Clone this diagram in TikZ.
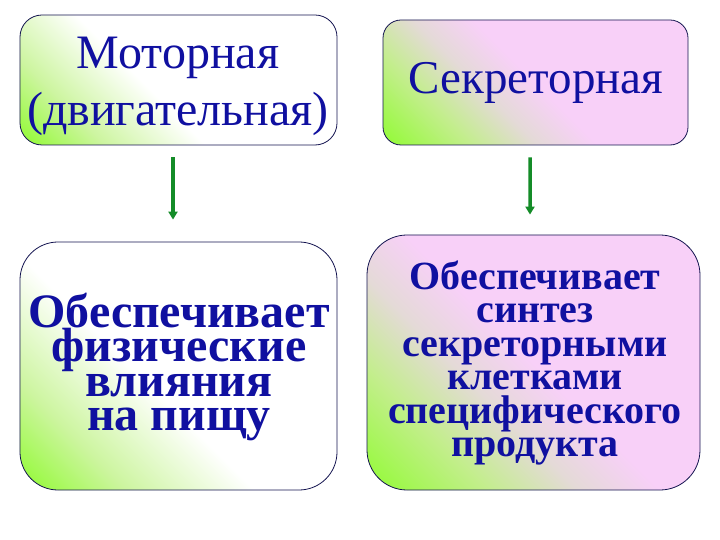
\documentclass[tikz,border=0pt]{standalone}
\usepackage{fontspec}
\setmainfont{Liberation Serif}
\usetikzlibrary{arrows.meta}
\definecolor{grn}{RGB}{150,250,60}
\definecolor{lgrn}{RGB}{205,245,160}
\definecolor{pnk}{RGB}{248,208,248}
\definecolor{mixa}{RGB}{195,238,140}
\definecolor{mixb}{RGB}{228,218,215}
\definecolor{txtblue}{RGB}{16,16,160}
\definecolor{arrgreen}{RGB}{20,140,40}
\definecolor{edge}{RGB}{20,20,80}
\pgfdeclarehorizontalshading{gw}{100bp}{color(0bp)=(grn); color(16bp)=(grn); color(28bp)=(lgrn); color(44bp)=(white); color(100bp)=(white)}
\pgfdeclarehorizontalshading{gp}{100bp}{color(0bp)=(grn); color(16bp)=(grn); color(29bp)=(mixa); color(40bp)=(mixb); color(50bp)=(pnk); color(100bp)=(pnk)}
\tikzset{
  boxbase/.style={draw=edge, line width=0.8bp, inner sep=0pt, shading angle=45},
  whitebox/.style={boxbase, shading=gw},
  pinkbox/.style={boxbase, shading=gp},
  toptext/.style={text=txtblue, align=center, inner sep=0pt},
  lowtext/.style={text=txtblue, align=center, inner sep=0pt},
  arr/.style={draw=arrgreen, line width=3.5bp, -{Triangle[length=8bp,width=9bp]}}
}
\begin{document}
\begin{tikzpicture}[x=1bp,y=-1bp]
\useasboundingbox (0,0) rectangle (720,540);
\node[whitebox, minimum width=317bp, minimum height=130bp, rounded corners=22bp] (m) at (178.5,80) {};
\node[pinkbox, minimum width=305bp, minimum height=125bp, rounded corners=18bp] (s) at (535.5,82.5) {};
\node[whitebox, minimum width=317bp, minimum height=248bp, rounded corners=38bp] (p) at (178.5,366) {};
\node[pinkbox, minimum width=333bp, minimum height=255bp, rounded corners=40bp] (q) at (533.5,362.5) {};
\node[toptext, font=\fontsize{48bp}{57bp}\selectfont] (mt) at (178,86) {Моторная\\(двигательная)};
\node[toptext, font=\fontsize{47bp}{57bp}\selectfont] (st) at (536,83) {Секреторная};
\node[lowtext, font=\fontsize{48bp}{34.6bp}\selectfont\bfseries] (pt) at (179,367) {Обеспечивает\\физические\\влияния\\на пищу};
\node[lowtext, font=\fontsize{40bp}{33.5bp}\selectfont\bfseries] (qt) at (535,363) {Обеспечивает\hspace{8bp}\\синтез\\секреторными\\клетками\\специфического\\продукта};
\draw[arr] ([xshift=-5.5bp,yshift=-12bp]m.south) -- ([xshift=-5.5bp,yshift=22bp]p.north);
\draw[arr] ([xshift=-5.5bp,yshift=-12bp]s.south) -- ([xshift=-3.5bp,yshift=20bp]q.north);
\end{tikzpicture}
\end{document}
